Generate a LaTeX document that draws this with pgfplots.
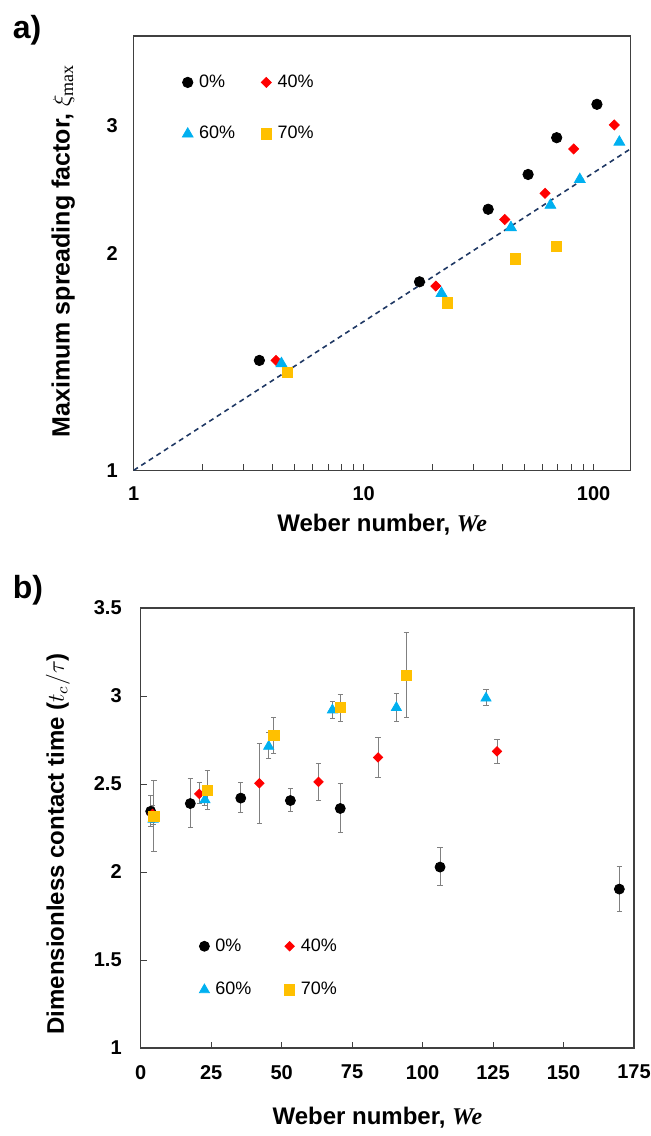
\documentclass[border=0pt]{standalone}
\usepackage{pgfplots}
\pgfplotsset{compat=1.18}
\usepackage{pgfplotstable}
\usepackage{fontspec}
\setmainfont{Liberation Sans}
\newfontfamily\timesfont{Liberation Serif}
\definecolor{cA}{HTML}{000000}
\definecolor{cB}{HTML}{FF0000}
\definecolor{cC}{HTML}{00B0F0}
\definecolor{cD}{HTML}{FFC000}
\definecolor{fitline}{HTML}{1F3864}
\definecolor{axgray}{HTML}{404040}
\definecolor{errgray}{HTML}{808080}

% ---- panel a) maximum spreading factor ----
\pgfplotstableread{
x y
3.52 1.42
17.5 1.825
34.8 2.30
51.9 2.57
69.1 2.89
103.4 3.215
}\aZero
\pgfplotstableread{
x y
4.16 1.42
20.6 1.80
41.1 2.226
61.5 2.42
81.9 2.788
123 3.01
}\aForty
\pgfplotstableread{
x y
4.39 1.406
21.8 1.759
43.7 2.17
64.9 2.33
87.1 2.53
129.4 2.85
}\aSixty
\pgfplotstableread{
x y
4.65 1.367
23.1 1.706
45.8 1.963
69.1 2.044
}\aSeventy

% ---- panel b) dimensionless contact time ----
\pgfplotstableread{
x y ep em
3.55 2.345 0.089 0.085
17.6 2.389 0.140 0.134
35.5 2.420 0.087 0.084
53.1 2.406 0.067 0.062
70.8 2.361 0.143 0.138
106.2 2.028 0.110 0.107
169.8 1.903 0.129 0.128
}\bZero
\pgfplotstableread{
x y ep em
4.2 2.330 0.050 0.050
20.8 2.444 0.065 0.054
42.1 2.504 0.226 0.227
63.1 2.512 0.105 0.106
84.2 2.651 0.116 0.115
126.4 2.686 0.069 0.069
}\bForty
\pgfplotstableread{
x y ep em
4.4 2.300 0.030 0.030
22.8 2.410 0.030 0.030
45.4 2.714 0.076 0.068
68.0 2.920 0.047 0.048
90.7 2.934 0.080 0.077
122.5 2.988 0.047 0.044
}\bSixty
\pgfplotstableread{
x y ep em
4.7 2.317 0.205 0.198
23.6 2.463 0.111 0.110
47.2 2.776 0.102 0.102
70.8 2.934 0.074 0.079
94.2 3.118 0.245 0.240
}\bSeventy

\begin{document}
\begin{tikzpicture}
\useasboundingbox (0,0) rectangle (325.5pt,-568pt);
\pgfplotsset{
  mystyle/.style={
    scale only axis,
    axis line style={axgray, line width=0.75pt},
    tick style={axgray, line width=0.5pt},
    major tick length=3pt, minor tick length=3pt,
    tick align=inside,
    /pgf/number format/assume math mode=true,
    ticklabel style={font=\bfseries\fontsize{10}{12}\selectfont},
    label style={font=\bfseries\fontsize{12}{14}\selectfont},
    legend cell align=left,
    legend columns=2,
    legend image code/.code={\draw[##1] plot coordinates {(0pt,0pt)};},
  },
  sA/.style={only marks, mark=*, mark size=2.6pt, color=cA},
  sB/.style={only marks, mark=square*, mark size=1.77pt, mark options={rotate=45}, color=cB},
  sC/.style={only marks, mark=triangle*, mark size=3.1pt, color=cC},
  sD/.style={only marks, mark=square*, mark size=2.6pt, color=cD},
  eb/.style={error bars/.cd, y dir=both, y explicit,
    error bar style={errgray, line width=0.5pt},
    error mark options={errgray, line width=0.5pt, mark size=1.3pt, rotate=90}},
}
\node[font=\bfseries\fontsize{16}{18}\selectfont] at (13.5pt,-15pt) {a)};
\node[font=\bfseries\fontsize{16}{18}\selectfont] at (14pt,-295pt) {b)};

\begin{loglogaxis}[mystyle,
  at={(66.85pt,-235.15pt)}, anchor=south west,
  width=248.5pt, height=217.25pt,
  xmin=1, xmax=145, ymin=1, ymax=4,
  xtick={1,10,100}, xticklabels={1,10,100},
  minor xtick={2,3,4,5,6,7,8,9,20,30,40,50,60,70,80,90},
  ytick={1,2,3}, yticklabels={1,2,3},
  yminorticks=false,
  xtick pos=left, ytick pos=left,
  ytick style={draw=none},
  xticklabel style={yshift=-4.5pt},
  yticklabel style={xshift=-4.5pt},
  xlabel={Weber number, {\timesfont\bfseries\itshape We}},
  xlabel style={at={(axis description cs:0.5,-0.126)}, anchor=center},
  ylabel={Maximum spreading factor, $\xi_{\mbox{\timesfont\mdseries\fontsize{9}{10}\selectfont max}}$},
  ylabel style={at={(axis description cs:-0.142,0.505)}, anchor=center, font=\bfseries\fontsize{12.5}{14}\selectfont},
  legend style={draw=none, fill=none, at={(axis description cs:0.085,0.93)}, anchor=north west,
    font=\fontsize{9}{11}\selectfont, row sep=14pt,
    /tikz/every odd column/.append style={column sep=1pt},
    /tikz/every even column/.append style={column sep=11pt}},
]
\addplot[sA] table[x=x,y=y] {\aZero};
\addlegendentry{0\%}
\addplot[sB] table[x=x,y=y] {\aForty};
\addlegendentry{40\%}
\addplot[sC] table[x=x,y=y] {\aSixty};
\addlegendentry{60\%}
\addplot[sD] table[x=x,y=y] {\aSeventy};
\addlegendentry{70\%}
\addplot[fitline, line width=0.8pt, dash pattern=on 2.5pt off 2pt, forget plot] coordinates {(1,1) (145,2.79)};
\end{loglogaxis}

\begin{axis}[mystyle,
  at={(70.35pt,-524pt)}, anchor=south west,
  width=246.65pt, height=220pt,
  xmin=0, xmax=175, ymin=1, ymax=3.5,
  xtick={0,25,50,75,100,125,150,175},
  ytick={1,1.5,2,2.5,3,3.5}, yticklabels={1,1.5,2,2.5,3,3.5},
  xtick pos=left, ytick pos=left,
  xticklabel style={yshift=-5pt},
  yticklabel style={xshift=-6pt},
  xlabel={Weber number, {\timesfont\bfseries\itshape We}},
  xlabel style={at={(axis description cs:0.48,-0.159)}, anchor=center},
  ylabel={Dimensionless contact time ({\mdseries$t_c/\tau$})},
  ylabel style={at={(axis description cs:-0.168,0.464)}, anchor=center},
  legend style={draw=none, fill=none, at={(axis description cs:0.106,0.268)}, anchor=north west,
    font=\fontsize{9}{11}\selectfont, row sep=10pt,
    /tikz/every odd column/.append style={column sep=1pt},
    /tikz/every even column/.append style={column sep=14.5pt}},
]
\addplot[sA, mark size=2.5pt, eb] table[x=x,y=y,y error plus=ep,y error minus=em] {\bZero};
\addlegendentry{0\%}
\addplot[sB, mark size=1.65pt, eb] table[x=x,y=y,y error plus=ep,y error minus=em] {\bForty};
\addlegendentry{40\%}
\addplot[sC, mark size=2.9pt, eb] table[x=x,y=y,y error plus=ep,y error minus=em] {\bSixty};
\addlegendentry{60\%}
\addplot[sD, mark size=2.6pt, eb] table[x=x,y=y,y error plus=ep,y error minus=em] {\bSeventy};
\addlegendentry{70\%}
\end{axis}
\end{tikzpicture}
\end{document}
